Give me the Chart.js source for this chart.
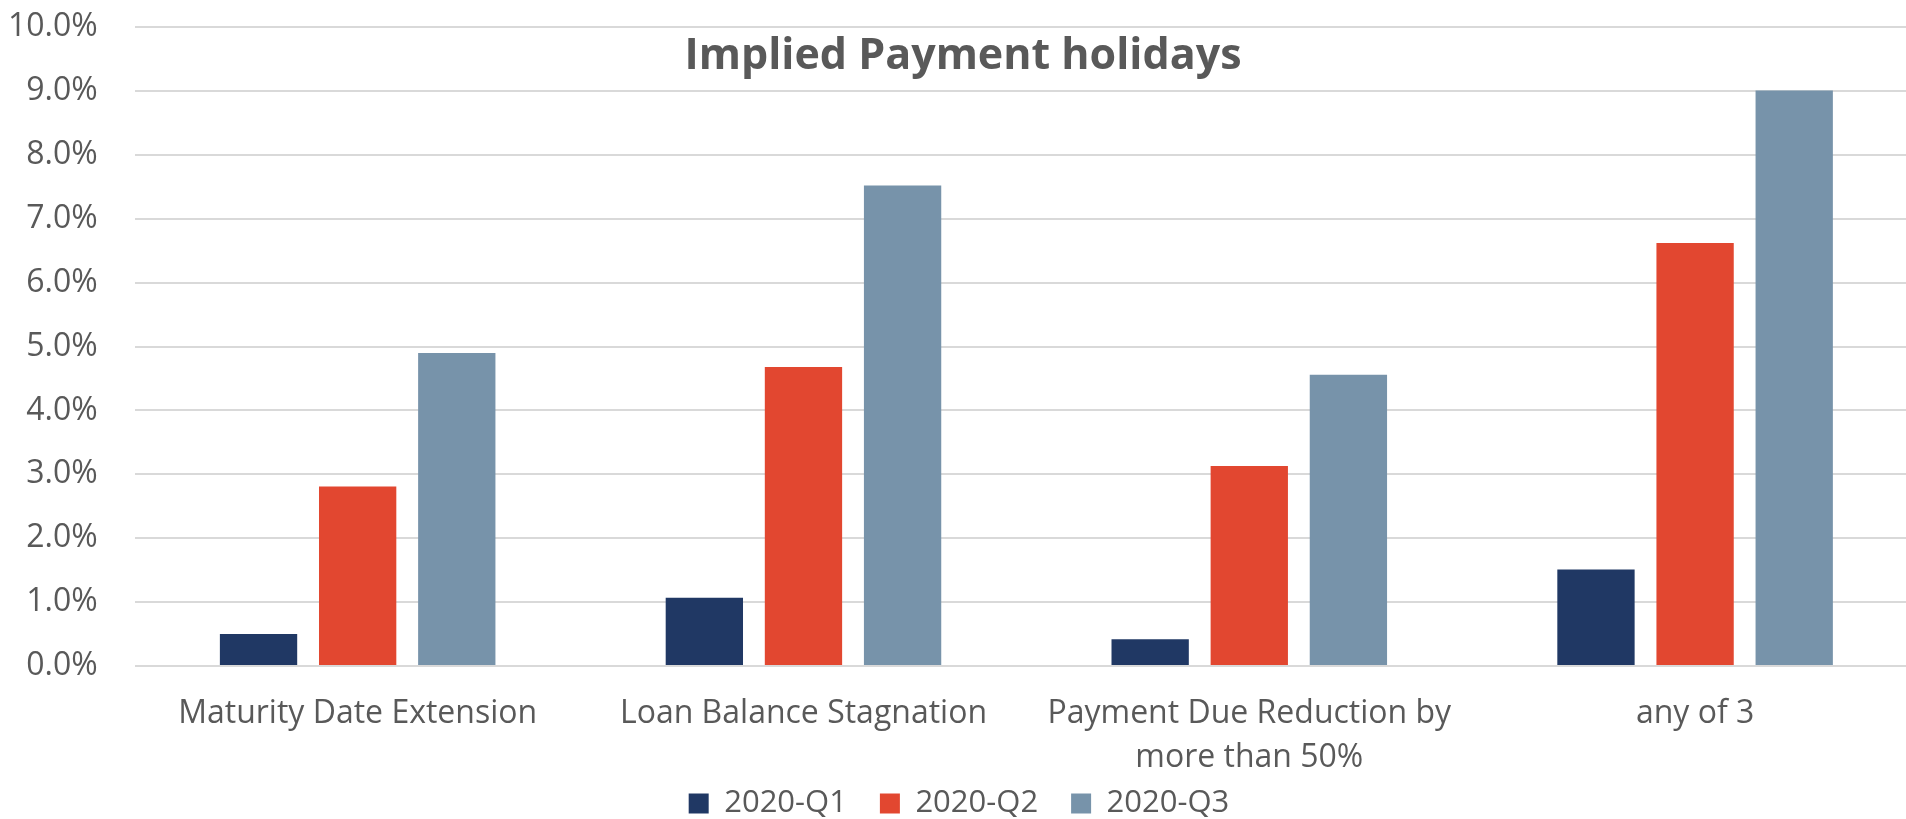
<!DOCTYPE html>
<html>
<head>
<meta charset="utf-8">
<script src="https://cdn.jsdelivr.net/npm/chart.js"></script>
<style>
  html, body { margin: 0; padding: 0; background: #fff; overflow: hidden; }
  /* plot runs a little past the right edge of the window, as in the source */
  #wrap { width: 1918px; height: 819px; position: relative; }
</style>
</head>
<body>
<div id="wrap"><canvas id="holidaysChart"></canvas></div>
<script>
// Implied Payment holidays - values in percent
const chartTitle = 'Implied Payment holidays';
const categories = [
    'Maturity Date Extension',
    'Loan Balance Stagnation',
    ['Payment Due Reduction by', 'more than 50%'],
    'any of 3'
];
const seriesNames = ['2020-Q1', '2020-Q2', '2020-Q3'];
const q1Values = [0.50, 1.07, 0.42, 1.51];
const q2Values = [2.81, 4.68, 3.13, 6.62];
const q3Values = [4.90, 7.52, 4.56, 9.01];
const yTicks = { min: 0, max: 10, step: 1 };

const textColor = '#595959';
const gridColor = '#d9d9d9';

// title sits inside the plot, above the bars
const titleInPlot = {
    id: 'titleInPlot',
    afterDraw(chart) {
        const ctx = chart.ctx;
        ctx.save();
        ctx.font = 'bold 43px "Open Sans"';
        ctx.fillStyle = textColor;
        ctx.textAlign = 'center';
        ctx.textBaseline = 'middle';
        ctx.fillText(chartTitle, 963, 57);
        ctx.restore();
    }
};

// x labels are allowed to run below the (shortened) axis box
const noLabelClip = {
    id: 'noLabelClip',
    afterLayout(chart) {
        chart.scales.x._computeLabelArea = () => undefined;
    }
};

Chart.defaults.font.family = '"Open Sans", sans-serif';
Chart.defaults.color = textColor;

new Chart(document.getElementById('holidaysChart'), {
    type: 'bar',
    data: {
        labels: categories,
        datasets: [
            { label: seriesNames[0], data: q1Values, backgroundColor: '#203864' },
            { label: seriesNames[1], data: q2Values, backgroundColor: '#E24730' },
            { label: seriesNames[2], data: q3Values, backgroundColor: '#7793AA' }
        ]
    },
    options: {
        responsive: true,
        maintainAspectRatio: false,
        animation: false,
        datasets: { bar: { categoryPercentage: 0.667, barPercentage: 0.78 } },
        layout: { padding: { top: 0, left: 0, right: 0, bottom: -10 } },
        plugins: {
            legend: {
                position: 'bottom',
                labels: {
                    font: { size: 31 },
                    color: textColor,
                    boxWidth: 20,
                    boxHeight: 20,
                    padding: 33
                }
            },
            tooltip: { enabled: false }
        },
        scales: {
            x: {
                grid: { display: false },
                border: { display: false },
                ticks: {
                    font: { size: 32, lineHeight: 1.4 },
                    color: textColor,
                    padding: 17,
                    maxRotation: 0,
                    autoSkip: false
                },
                afterFit: scale => { scale.height = 89; }
            },
            y: {
                min: yTicks.min,
                max: yTicks.max,
                grid: {
                    color: gridColor,
                    lineWidth: 2,
                    drawTicks: true,
                    tickLength: 29,
                    tickColor: 'rgba(0,0,0,0)'
                },
                border: { display: false },
                ticks: {
                    stepSize: yTicks.step,
                    font: { size: 32 },
                    color: textColor,
                    padding: 8,
                    callback: v => v.toFixed(1) + '%'
                }
            }
        }
    },
    plugins: [titleInPlot, noLabelClip]
});
</script>
</body>
</html>
